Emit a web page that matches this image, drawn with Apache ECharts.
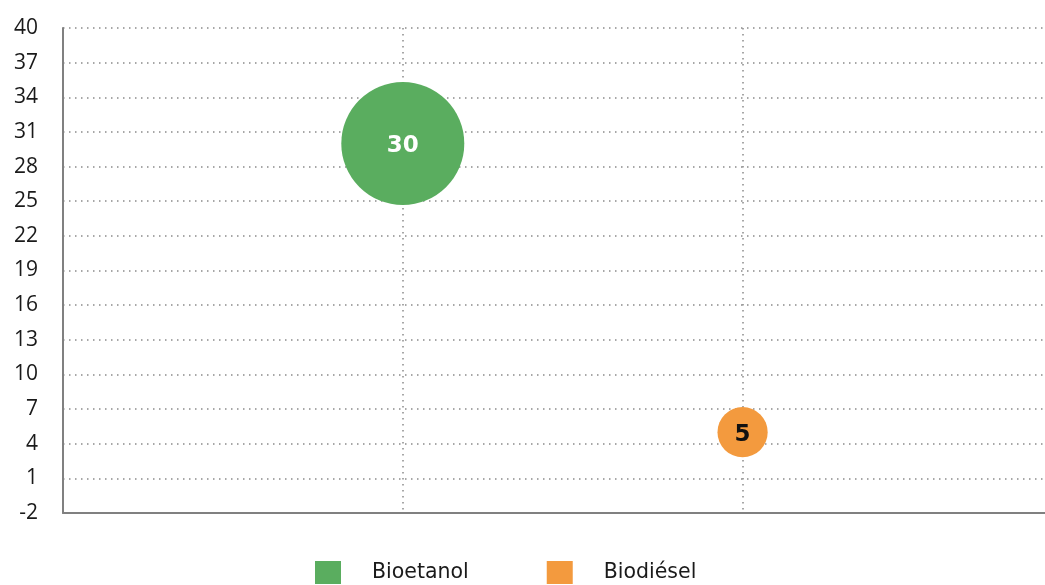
<!DOCTYPE html>
<html>
<head>
<meta charset="utf-8">
<script src="https://cdn.jsdelivr.net/npm/echarts@6/dist/echarts.min.js"></script>
<style>
  html, body { margin: 0; padding: 0; background: #fff; }
  #container { width: 1045px; height: 585px; }
</style>
</head>
<body>
<div id="container"></div>
<script>
var names = ['Bioetanol', 'Biodiésel'];
var xValues = [1, 2];
var yValues = [30, 5];
var bubbleValues = [30, 5];
var colors = ['#5aad5f', '#f39a3e'];
var labelColors = ['#ffffff', '#111111'];
var yMin = -2;
var yMax = 40;
var yStep = 3;

// the y ticks start at -2, so the axis runs from 0 and labels are shifted back
var shift = -yMin;

function bubbleSize(v) {
    return 123 * Math.sqrt(v / 30);
}

var series = names.map(function(name, i) {
    return {
        name: name,
        type: 'scatter',
        data: [[xValues[i], yValues[i] + shift, bubbleValues[i]]],
        symbolSize: function(d) { return bubbleSize(d[2]); },
        itemStyle: { color: colors[i], opacity: 1 },
        label: {
            show: true,
            position: 'inside',
            offset: [0, 3],
            formatter: function(p) { return p.data[2]; },
            color: labelColors[i],
            fontFamily: 'DejaVu Sans',
            fontWeight: 'bold',
            fontSize: 23
        }
    };
});

var myChart = echarts.init(document.getElementById('container'));
myChart.setOption({
    animation: false,
    grid: { left: 63, right: 0, top: 28, bottom: 72, containLabel: false },
    legend: {
        top: 561,
        left: 315,
        padding: 0,
        icon: 'rect',
        itemWidth: 26,
        itemHeight: 23,
        itemGap: 78,
        data: names,
        textStyle: {
            fontFamily: 'DejaVu Sans',
            fontSize: 20.5,
            color: '#1a1a1a',
            padding: [0, 0, 0, 26]
        }
    },
    xAxis: {
        type: 'value',
        min: 0,
        max: 2.89,
        interval: 1,
        axisLine: { show: true, onZero: false, lineStyle: { color: '#808080', width: 2 } },
        axisTick: { show: false },
        axisLabel: { show: false },
        splitLine: {
            show: true,
            showMinLine: false,
            showMaxLine: false,
            lineStyle: { color: '#8a8a8a', type: [1.5, 4.5], width: 1.5 }
        }
    },
    yAxis: {
        type: 'value',
        min: 0,
        max: yMax + shift,
        interval: yStep,
        axisLine: { show: true, onZero: false, lineStyle: { color: '#808080', width: 2 } },
        axisTick: { show: false },
        axisLabel: {
            margin: 25,
            fontFamily: 'Open Sans',
            fontSize: 21,
            color: '#1a1a1a',
            formatter: function(v) { return Math.round(v - shift); }
        },
        splitLine: {
            show: true,
            showMinLine: false,
            lineStyle: { color: '#8a8a8a', type: [1.5, 4.5], width: 1.5 }
        }
    },
    series: series
});
</script>
</body>
</html>
